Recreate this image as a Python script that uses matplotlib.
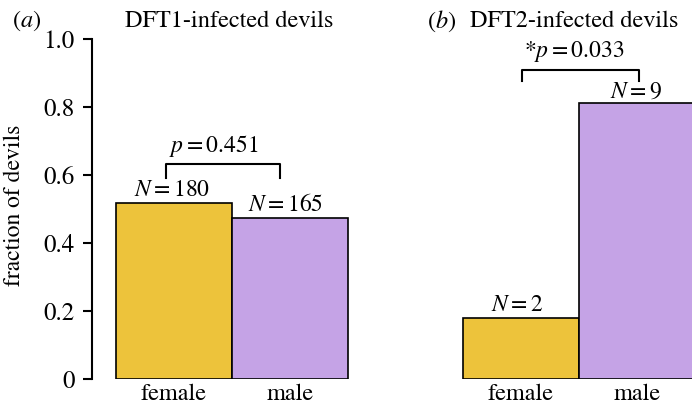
import matplotlib
matplotlib.use("Agg")
import matplotlib.pyplot as plt

plt.rcParams['font.family'] = ['STIXGeneral', 'Liberation Serif', 'DejaVu Serif']
plt.rcParams['mathtext.fontset'] = 'stix'

# data
sexes = ["female", "male"]
dft1_frac = [0.518, 0.474]
dft1_n = [180, 165]
dft2_frac = [0.179, 0.813]
dft2_n = [2, 9]
yticks = [0, 0.2, 0.4, 0.6, 0.8, 1.0]
ytick_labels = ["0", "0.2", "0.4", "0.6", "0.8", "1.0"]

c_yellow = "#EDC33B"
c_purple = "#C5A3E6"
colors = [c_yellow, c_purple]

W, H = 692, 412
fig = plt.figure(figsize=(W / 100, H / 100), dpi=100)

px = 116.0  # pixels per bar unit
y0, y1 = 379, 39
bottom = 1 - y0 / H
height = (y0 - y1) / H

# left panel
ax1 = fig.add_axes([92 / W, bottom, (360 - 92) / W, height])
ax1.set_xlim(-0.5 - 24 / px, -0.5 - 24 / px + (360 - 92) / px)
# right panel
ax2 = fig.add_axes([439 / W, bottom, (692 - 439) / W, height])
ax2.set_xlim(-0.5 - 24 / px, -0.5 - 24 / px + (692 - 439) / px)

x = [0, 1]
for ax, vals, ns in [(ax1, dft1_frac, dft1_n), (ax2, dft2_frac, dft2_n)]:
    ax.bar(x, vals, width=1.0, color=colors, edgecolor="black", linewidth=1.2, zorder=2)
    ax.set_ylim(0, 1.0)
    for s in ["top", "right", "bottom"]:
        ax.spines[s].set_visible(False)
    ax.set_xticks(x)
    ax.set_xticklabels(sexes, fontsize=17.5)
    ax.tick_params(axis="x", length=0, pad=3)

# N labels
ax1.text(-0.02, dft1_frac[0] + 0.005, "$N=%d$" % dft1_n[0], ha="center", va="bottom", fontsize=17)
ax1.text(0.96, dft1_frac[1] + 0.005, "$N=%d$" % dft1_n[1], ha="center", va="bottom", fontsize=17)
ax2.text(-0.03, dft2_frac[0] + 0.005, "$N=%d$" % dft2_n[0], ha="center", va="bottom", fontsize=17)
ax2.text(0.99, dft2_frac[1] + 0.0, "$N=%d$" % dft2_n[1], ha="center", va="bottom", fontsize=17, clip_on=False)

# left axis
ax1.set_yticks(yticks)
ax1.set_yticklabels(ytick_labels, fontsize=18)
ax1.tick_params(axis="y", length=6.5, width=1.5, pad=6)
ax1.spines["left"].set_linewidth(1.5)
ax1.set_ylabel("fraction of devils", fontsize=17)
ax1.yaxis.set_label_coords(-0.25, 0.512)

ax2.spines["left"].set_visible(False)
ax2.set_yticks([])

# significance brackets
ax1.plot([-0.07, -0.07, 0.91, 0.91], [0.591, 0.633, 0.633, 0.591], color="black", lw=1.5, clip_on=False)
ax1.text(0.34, 0.648, "$p=0.451$", ha="center", va="bottom", fontsize=17)
ax2.plot([0.01, 0.01, 1.02, 1.02], [0.876, 0.909, 0.909, 0.876], color="black", lw=1.5, clip_on=False)
ax2.text(0.46, 0.925, "$*p=0.033$", ha="center", va="bottom", fontsize=17, clip_on=False)

# titles
fig.text(12 / W, 1 - 21 / H, "($a$)", ha="left", va="center", fontsize=17.5)
fig.text(229 / W, 1 - 21 / H, "DFT1-infected devils", ha="center", va="center", fontsize=17.5)
fig.text(427 / W, 1 - 21 / H, "($b$)", ha="left", va="center", fontsize=17.5)
fig.text(574.5 / W, 1 - 21 / H, "DFT2-infected devils", ha="center", va="center", fontsize=17.5)

fig.savefig("out.png", dpi=100)
